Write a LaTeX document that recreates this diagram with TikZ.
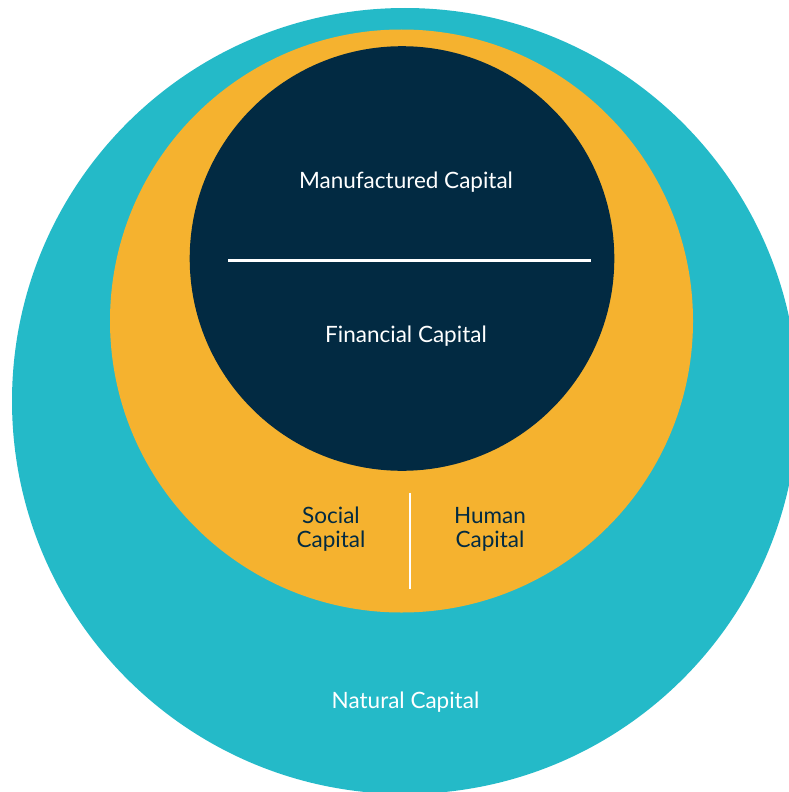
\documentclass[tikz,border=0pt]{standalone}
\usepackage{fontspec}
\setmainfont{Lato}
\definecolor{natural}{HTML}{24BAC8}
\definecolor{social}{HTML}{F5B22F}
\definecolor{finance}{HTML}{022A42}
\tikzset{
	label white/.style={text=white, font=\fontsize{22.5}{24}\selectfont, align=center},
	label navy/.style={text=finance, font=\fontsize{22.5}{24}\selectfont, align=center},
	divider/.style={draw=white, line width=2.2pt}
}
\begin{document}
\begin{tikzpicture}[x=1pt, y=-1pt]
		\useasboundingbox (0,0) rectangle (789,792);
		% capitals as circles
		\begin{scope}
			\clip (0,0) rectangle (789,792);
			\fill[natural] (405,401) circle (393);
		\end{scope}
		\fill[social] (401.5,321) circle (291.5);
		\fill[finance] (402,258.5) circle (212.3);
		
		% inner circle
		\node[label white] (manufactured) at (406,182) {Manufactured Capital};
		\node[label white] (financial) at (406,336.5) {Financial Capital};
		\coordinate (split left) at (228,260.5);
		\coordinate (split right) at (591,260.5);
		\draw[divider] (split left) -- (split right);
		
		% middle ring
		\node[label navy] (social) at (331,529.5) {Social\\Capital};
		\node[label navy] (human) at (490,529.5) {Human\\Capital};
		\coordinate (split top) at (409.8,493);
		\coordinate (split bottom) at (409.8,589);
		\draw[divider] (split top) -- (split bottom);
		
		% outer ring
		\node[label white] (natural) at (405.5,702) {Natural Capital};
	\end{tikzpicture}
\end{document}
